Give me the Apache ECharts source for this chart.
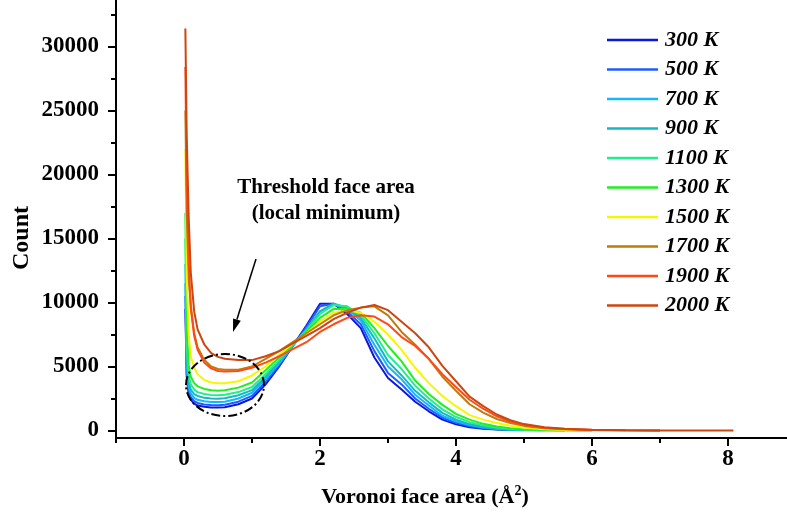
<!DOCTYPE html>
<html>
<head>
<meta charset="utf-8">
<script src="https://cdn.jsdelivr.net/npm/echarts@6/dist/echarts.min.js"></script>
<style>
html,body{margin:0;padding:0;background:#fff;}
#chart{width:787px;height:525px;}
</style>
</head>
<body>
<div id="chart"></div>
<script>
// Voronoi face area (Å^2) sample positions
var areaX = [0.02, 0.04, 0.07, 0.1, 0.15, 0.2, 0.3, 0.4, 0.5, 0.6, 0.8, 1.0, 1.2, 1.4, 1.6, 1.8, 2.0, 2.2, 2.4, 2.6, 2.8, 3.0, 3.2, 3.4, 3.6, 3.8, 4.0, 4.2, 4.4, 4.6, 4.8, 5.0, 5.3, 5.6, 6.0, 6.5, 7.0, 8.08];

var temps = ['300 K', '500 K', '700 K', '900 K', '1100 K', '1300 K', '1500 K', '1700 K', '1900 K', '2000 K'];
var colors = ['#0a18dc', '#1e5cff', '#14b6ff', '#18b8c2', '#22ee90', '#22ee22', '#f6f600', '#c07c0a', '#ff4a18', '#cc4610'];

var c300  = [9500, 4200, 2800, 2400, 2100, 1950, 1850, 1800, 1790, 1820, 2050, 2500, 3600, 5000, 6600, 8200, 9900, 9900, 9100, 8000, 5700, 4100, 3200, 2250, 1500, 850, 480, 260, 140, 70, 35];
var c500  = [10500, 4500, 3000, 2600, 2300, 2150, 2030, 1990, 1980, 2010, 2250, 2700, 3800, 5100, 6600, 8100, 9700, 9900, 9300, 8300, 6200, 4500, 3600, 2500, 1700, 1000, 600, 330, 180, 90, 45, 20];
var c700  = [11500, 5000, 3400, 2900, 2550, 2400, 2280, 2230, 2220, 2250, 2500, 2950, 4000, 5250, 6600, 7900, 9300, 9900, 9500, 8600, 6700, 5000, 4000, 2800, 1950, 1150, 720, 420, 230, 120, 60, 30, 10];
var c900  = [13000, 5500, 3800, 3200, 2850, 2700, 2550, 2500, 2480, 2520, 2750, 3150, 4200, 5400, 6700, 7900, 9300, 9900, 9600, 8800, 7200, 5400, 4300, 3100, 2200, 1380, 850, 500, 290, 150, 80, 40, 15, 6];
var c1100 = [15000, 6500, 4300, 3600, 3200, 3000, 2850, 2780, 2750, 2800, 3000, 3400, 4400, 5500, 6700, 7800, 9100, 9800, 9700, 9000, 7600, 5900, 4800, 3500, 2500, 1650, 1050, 650, 400, 230, 120, 60, 25, 10, 3];
var c1300 = [17000, 8000, 5000, 4200, 3700, 3450, 3250, 3150, 3100, 3150, 3350, 3750, 4700, 5700, 6750, 7700, 8800, 9500, 9500, 9200, 8000, 6600, 5400, 3900, 2850, 2000, 1300, 850, 520, 320, 180, 90, 40, 15, 5];
var c1500 = [22000, 12000, 7500, 5800, 4900, 4400, 3950, 3750, 3700, 3700, 3850, 4300, 5000, 5900, 6800, 7600, 8500, 9200, 9400, 9200, 8500, 7500, 6300, 4900, 3700, 2700, 1900, 1200, 850, 580, 370, 220, 100, 45, 15, 4];
var c1700 = [25000, 17000, 11800, 9800, 7600, 6500, 5500, 5000, 4800, 4750, 4750, 5000, 5600, 6200, 6900, 7600, 8300, 9000, 9400, 9600, 9700, 9000, 7700, 6700, 5600, 4200, 3100, 2050, 1400, 900, 580, 360, 180, 90, 35, 10, 3];
var c1900 = [28400, 19000, 13000, 9500, 7400, 6300, 5300, 4850, 4650, 4600, 4650, 4900, 5300, 5800, 6350, 6900, 7700, 8300, 8800, 9000, 8900, 8300, 7300, 6600, 5600, 4400, 3400, 2400, 1700, 1100, 700, 430, 220, 110, 45, 12, 4];
var c2000 = [31400, 23000, 16500, 12300, 9300, 7900, 6700, 6050, 5750, 5600, 5500, 5500, 5800, 6200, 6800, 7400, 8000, 8700, 9200, 9600, 9800, 9400, 8500, 7600, 6500, 5050, 3850, 2650, 1900, 1250, 800, 500, 260, 130, 50, 15, 5, 0];

var counts = [c300, c500, c700, c900, c1100, c1300, c1500, c1700, c1900, c2000];

var yMajor = [0, 5000, 10000, 15000, 20000, 25000, 30000];
var yMinor = [2500, 7500, 12500, 17500, 22500, 27500, 32500];
var xMajor = [0, 2, 4, 6, 8];
var xMinor = [-1, 1, 3, 5, 7];

var FONT = '"Liberation Serif", "Times New Roman", serif';
var chart = echarts.init(document.getElementById('chart'), null, {renderer: 'canvas'});

var X_MIN = -1, X_MAX = 8.868, Y_MIN = -586, Y_MAX = 33633;

var series = temps.map(function (name, i) {
  return {
    name: name,
    type: 'line',
    showSymbol: false,
    symbol: 'none',
    smooth: false,
    lineStyle: {width: 2, color: colors[i]},
    itemStyle: {color: colors[i]},
    data: counts[i].map(function (v, j) { return [areaX[j], v]; }),
    z: 2 + i
  };
});

var axisLineStyle = {color: '#000', width: 2};
var plain = function (v) { return String(v); };

var option = {
  animation: false,
  backgroundColor: '#fff',
  grid: {left: 116, right: 0, top: 0, bottom: 87, containLabel: false},
  xAxis: [{
    type: 'value', min: X_MIN, max: X_MAX, position: 'bottom',
    axisLine: {show: true, onZero: false, lineStyle: axisLineStyle},
    axisTick: {show: true, inside: false, length: 8, lineStyle: {color: '#000', width: 2}, customValues: xMajor},
    axisLabel: {show: true, customValues: xMajor, margin: 10, color: '#000', formatter: plain,
      fontFamily: FONT, fontWeight: 'bold', fontSize: 23},
    splitLine: {show: false}
  }, {
    type: 'value', min: X_MIN, max: X_MAX, position: 'bottom',
    axisLine: {show: false, onZero: false},
    axisTick: {show: true, inside: false, length: 5, lineStyle: {color: '#000', width: 2}, customValues: xMinor},
    axisLabel: {show: false, customValues: xMinor},
    splitLine: {show: false}
  }],
  yAxis: [{
    type: 'value', min: Y_MIN, max: Y_MAX, position: 'left',
    axisLine: {show: true, onZero: false, lineStyle: axisLineStyle},
    axisTick: {show: true, inside: false, length: 8, lineStyle: {color: '#000', width: 2}, customValues: yMajor},
    axisLabel: {show: true, customValues: yMajor, margin: 17, color: '#000', formatter: plain,
      fontFamily: FONT, fontWeight: 'bold', fontSize: 23},
    splitLine: {show: false}
  }, {
    type: 'value', min: Y_MIN, max: Y_MAX, position: 'left',
    axisLine: {show: false, onZero: false},
    axisTick: {show: true, inside: false, length: 5, lineStyle: {color: '#000', width: 2}, customValues: yMinor},
    axisLabel: {show: false, customValues: yMinor},
    splitLine: {show: false}
  }],
  legend: {
    orient: 'vertical',
    left: 607,
    top: 29,
    padding: 0,
    icon: 'rect',
    itemWidth: 51,
    itemHeight: 2.5,
    itemGap: 7.5,
    data: temps,
    textStyle: {fontFamily: FONT, fontWeight: 'bold', fontStyle: 'italic', fontSize: 22,
      color: '#000', lineHeight: 22, padding: [0, 0, 0, 2]},
    selectedMode: false
  },
  series: series,
  graphic: [
    {type: 'text', x: 22, y: 238, rotation: Math.PI / 2, z: 100,
      style: {text: 'Count', font: 'bold 24px ' + FONT, fill: '#000', textAlign: 'center', textVerticalAlign: 'middle'}},
    {type: 'text', x: 425, y: 497, z: 100,
      style: {text: 'Voronoi face area (Å{sup|2})', font: 'bold 22px ' + FONT, fill: '#000',
        textAlign: 'center', textVerticalAlign: 'middle',
        rich: {sup: {font: 'bold 14px ' + FONT, fill: '#000', verticalAlign: 'top', padding: [0, 0, 12, 0]}}}},
    {type: 'text', x: 326, y: 188, z: 100,
      style: {text: 'Threshold face area', font: 'bold 21px ' + FONT, fill: '#000', textAlign: 'center', textVerticalAlign: 'middle'}},
    {type: 'text', x: 326, y: 214, z: 100,
      style: {text: '(local minimum)', font: 'bold 21px ' + FONT, fill: '#000', textAlign: 'center', textVerticalAlign: 'middle'}},
    {type: 'line', z: 100, shape: {x1: 256, y1: 259, x2: 236.9, y2: 319.6},
      style: {stroke: '#000', lineWidth: 1.5}},
    {type: 'polygon', z: 100, shape: {points: [[233, 332], [240.8, 320.8], [233.1, 318.4]]},
      style: {fill: '#000'}},
    {type: 'ellipse', z: 100, shape: {cx: 225, cy: 385, rx: 39, ry: 31},
      style: {stroke: '#000', fill: null, lineWidth: 2, lineDash: [9, 3, 2, 3]}}
  ]
};
chart.setOption(option);
</script>
</body>
</html>
